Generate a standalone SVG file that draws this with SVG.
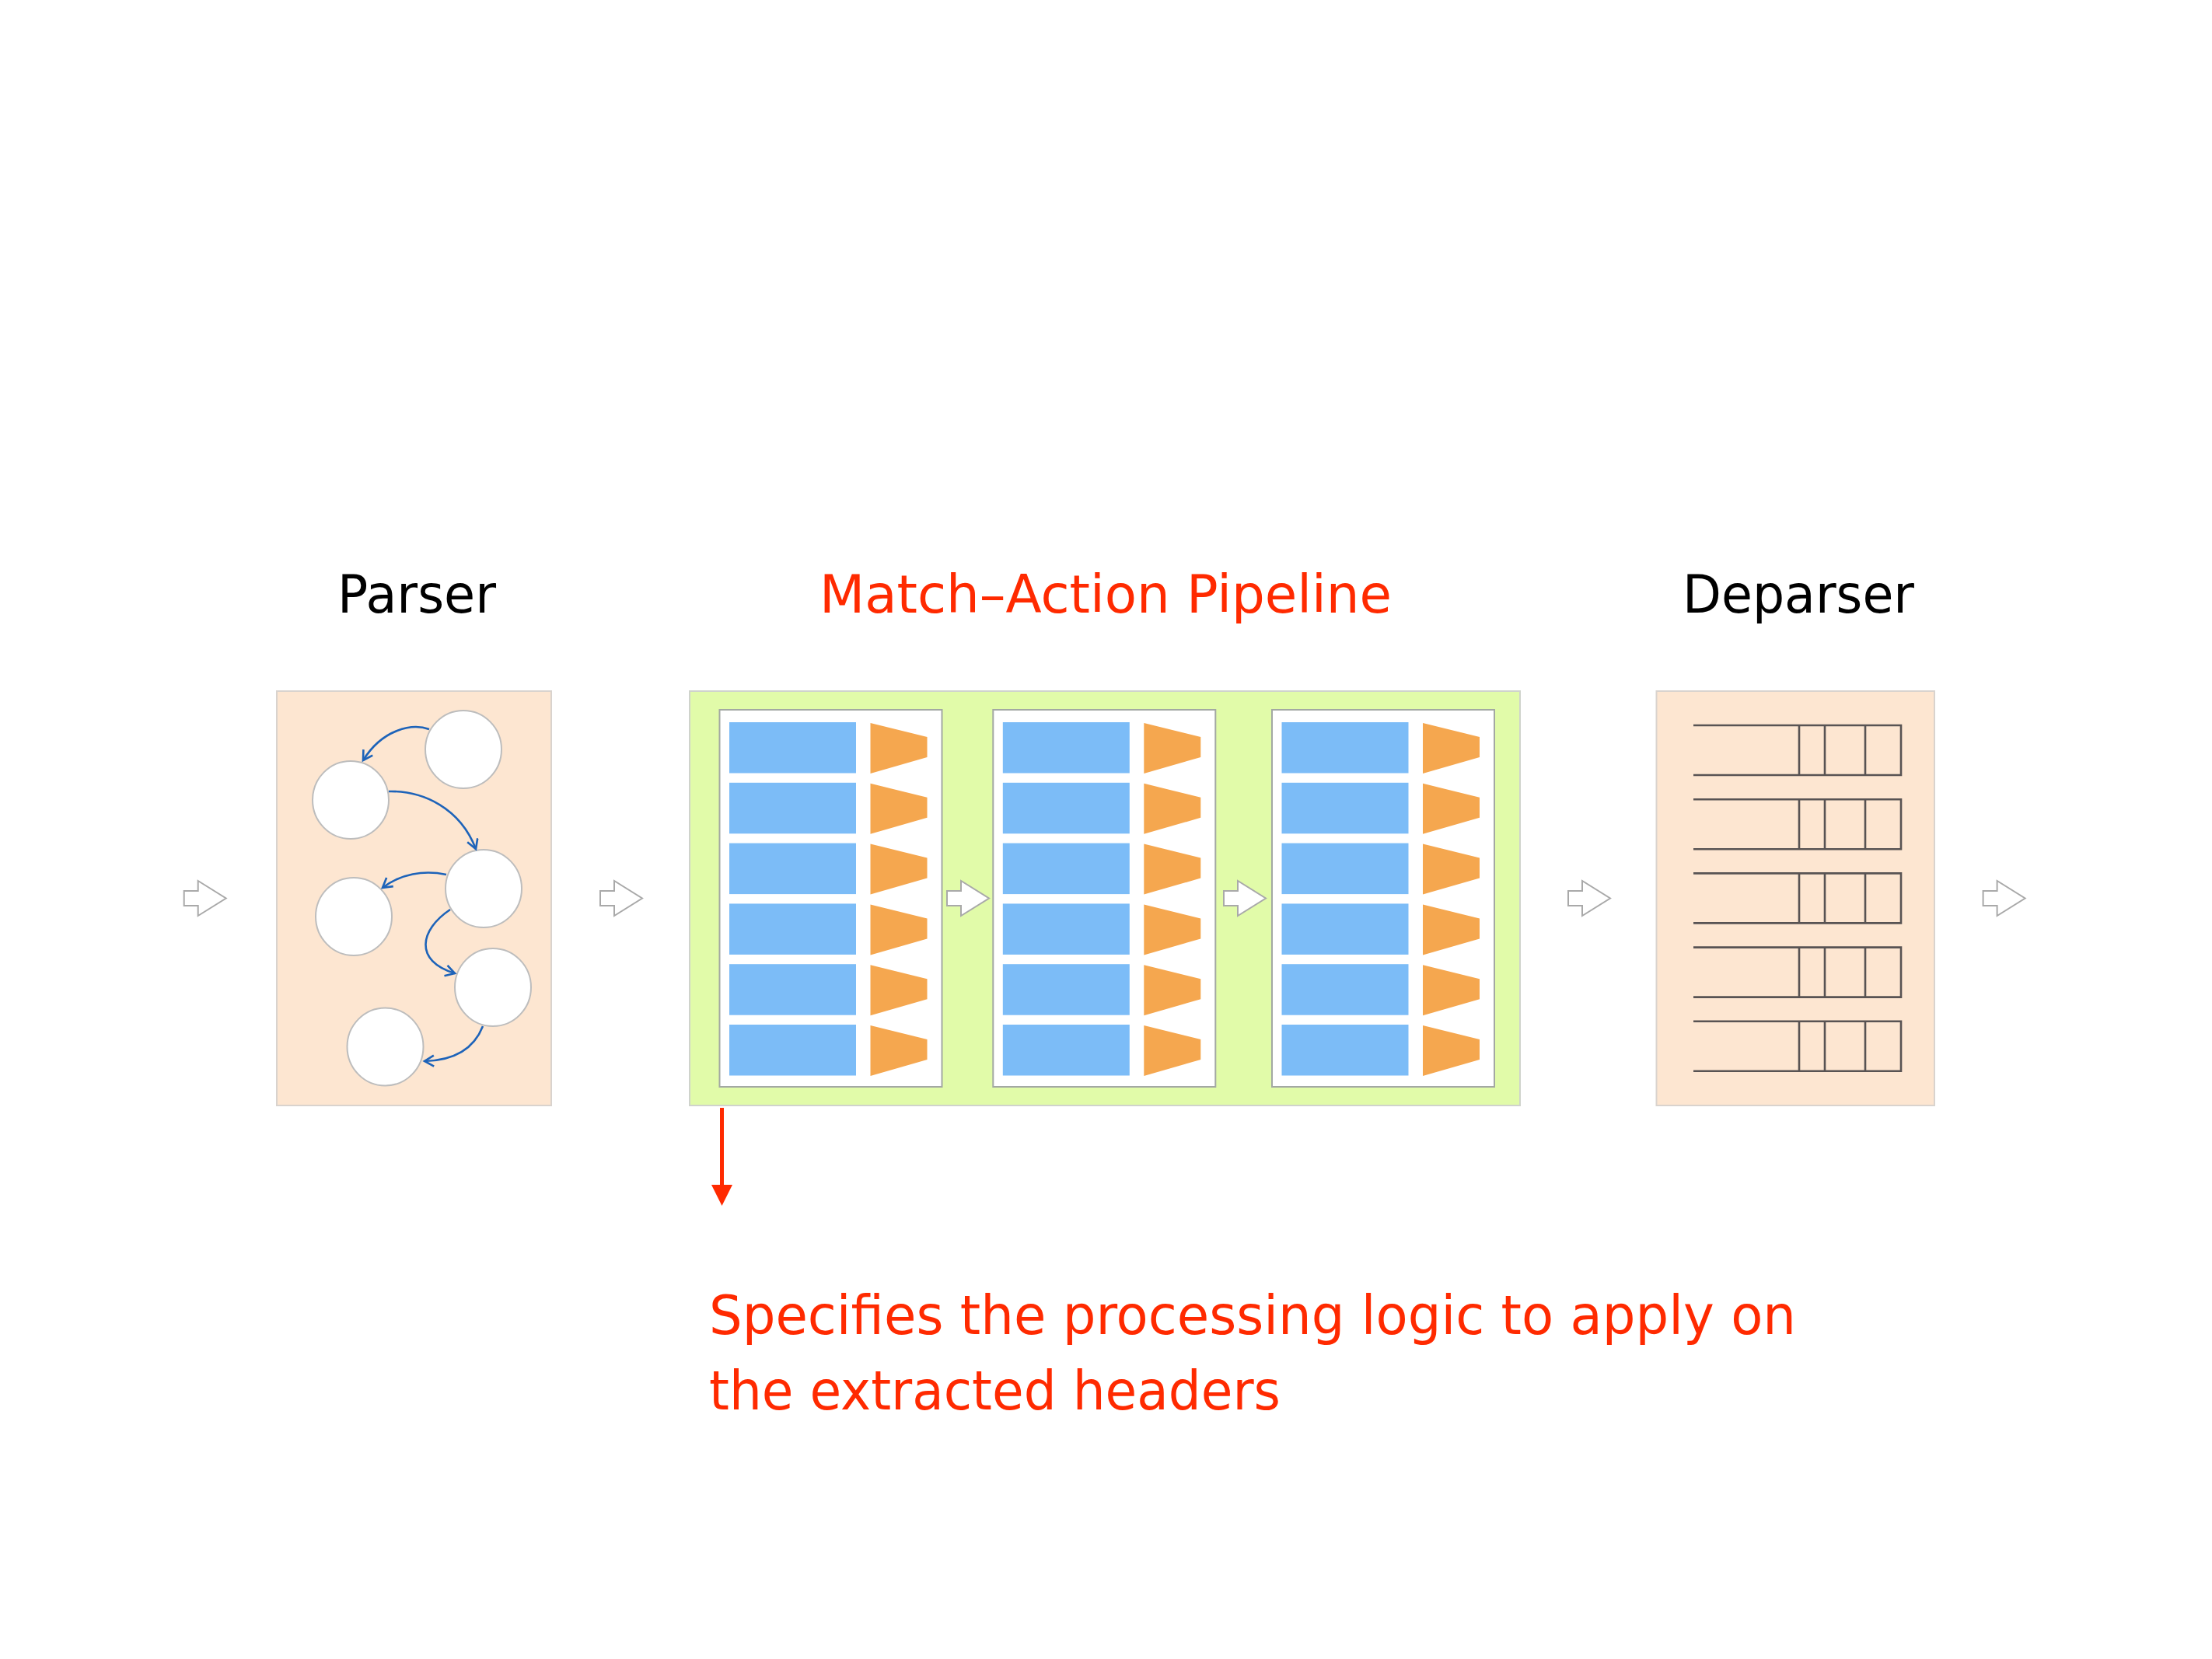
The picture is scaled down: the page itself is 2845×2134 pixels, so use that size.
<svg xmlns="http://www.w3.org/2000/svg" xmlns:xlink="http://www.w3.org/1999/xlink" width="2845" height="2134" viewBox="0 0 2845 2134">
  <style>
    .title { font-family: "DejaVu Sans", "Liberation Sans", sans-serif; font-size: 67px; text-anchor: middle; }
    .body { font-family: "DejaVu Sans", "Liberation Sans", sans-serif; font-size: 69px; fill: #ff2a00; }
    .peach { fill: #fde6d1; stroke: #d9d3ce; stroke-width: 2; }
    .green { fill: #e1fba9; stroke: #cfd3cc; stroke-width: 2; }
    .stage { fill: #ffffff; stroke: #a3a8a3; stroke-width: 2; }
    .state { fill: #ffffff; stroke: #bdbdbd; stroke-width: 2; }
    .blue { fill: #7cbcf7; }
    .orange { fill: #f5a74f; }
    .hdr { fill: none; stroke: #585353; stroke-width: 2.6; }
    .trans { fill: none; stroke: #1d63b9; stroke-width: 2.6; marker-end: url(#open); }
    .block { fill: #ffffff; stroke: #a9a9a9; stroke-width: 2; stroke-linejoin: miter; }
  </style>
  <defs>
    <marker id="open" markerUnits="userSpaceOnUse" markerWidth="20" markerHeight="20" refX="13" refY="8" orient="auto">
      <path d="M1,1 L13,8 L1,15" fill="none" stroke="#1d63b9" stroke-width="2.6"/>
    </marker>
    <path id="blockArrow" class="block" d="M0,-9.5 L18,-9.5 L18,-22.5 L54,0 L18,22.5 L18,9.5 L0,9.5 Z"/>
    <g id="maRow">
      <rect class="blue" x="12.5" y="0" width="163" height="65.5"/>
      <polygon class="orange" points="194,1 267,19 267,45 194,66"/>
    </g>
    <g id="stageContent">
      <rect class="stage" x="0" y="0" width="286" height="485"/>
      <use xlink:href="#maRow" y="16"/>
      <use xlink:href="#maRow" y="93.8"/>
      <use xlink:href="#maRow" y="171.6"/>
      <use xlink:href="#maRow" y="249.4"/>
      <use xlink:href="#maRow" y="327.2"/>
      <use xlink:href="#maRow" y="405"/>
    </g>
    <g id="hdrRow">
      <path class="hdr" d="M0,0 H267 V64 H0 M136,0 V64 M169,0 V64 M221,0 V64"/>
    </g>
  </defs>

  <rect x="0" y="0" width="2845" height="2134" fill="#ffffff"/>

  <g id="node-parser">
    <text class="title" x="536" y="788" textLength="204" lengthAdjust="spacingAndGlyphs" fill="#000000">Parser</text>
    <rect class="peach" x="356" y="889" width="353" height="533"/>
    <g id="state-1"><ellipse class="state" cx="596" cy="964" rx="49" ry="50"/></g>
    <g id="state-2"><ellipse class="state" cx="451" cy="1029" rx="49" ry="50"/></g>
    <g id="state-3"><ellipse class="state" cx="622" cy="1143" rx="49" ry="50"/></g>
    <g id="state-4"><ellipse class="state" cx="455" cy="1179" rx="49" ry="50"/></g>
    <g id="state-5"><ellipse class="state" cx="634" cy="1270" rx="49" ry="50"/></g>
    <g id="state-6"><ellipse class="state" cx="495.5" cy="1346.5" rx="49" ry="50"/></g>
  </g>

  <g id="node-pipeline">
    <text class="title" x="1422" y="788" textLength="736" lengthAdjust="spacingAndGlyphs" fill="#ff2a00">Match–Action Pipeline</text>
    <rect class="green" x="887" y="889" width="1068" height="533"/>
    <g id="node-stage-1"><use xlink:href="#stageContent" x="925.5" y="913"/></g>
    <g id="node-stage-2"><use xlink:href="#stageContent" x="1277.3" y="913"/></g>
    <g id="node-stage-3"><use xlink:href="#stageContent" x="1636" y="913"/></g>
  </g>

  <g id="node-deparser">
    <text class="title" x="2313" y="788" textLength="298" lengthAdjust="spacingAndGlyphs" fill="#000000">Deparser</text>
    <rect class="peach" x="2130.5" y="889" width="357.5" height="533"/>
    <use xlink:href="#hdrRow" x="2178" y="933"/>
    <use xlink:href="#hdrRow" x="2178" y="1028.2"/>
    <use xlink:href="#hdrRow" x="2178" y="1123.4"/>
    <use xlink:href="#hdrRow" x="2178" y="1218.6"/>
    <use xlink:href="#hdrRow" x="2178" y="1313.8"/>
  </g>

  <g id="node-note">
    <text class="body" x="912" y="1716" textLength="1398" lengthAdjust="spacingAndGlyphs">Specifies the processing logic to apply on</text>
    <text class="body" x="912" y="1813" textLength="735" lengthAdjust="spacingAndGlyphs">the extracted headers</text>
  </g>

  <g id="connectors">
    <path class="trans" d="M552,938 C530,930 492,938 467,978"/>
    <path class="trans" d="M500,1018 C545,1017 592,1040 612,1092"/>
    <path class="trans" d="M574,1125 C545,1119 515,1124 492,1142"/>
    <path class="trans" d="M579,1170 C540,1196 532,1236 585,1252"/>
    <path class="trans" d="M621,1320 C610,1348 585,1364 546,1365"/>

    <use xlink:href="#blockArrow" x="236.7" y="1155.5"/>
    <use xlink:href="#blockArrow" x="772" y="1155.5"/>
    <use xlink:href="#blockArrow" x="1218" y="1155.5"/>
    <use xlink:href="#blockArrow" x="1574" y="1155.5"/>
    <use xlink:href="#blockArrow" x="2017" y="1155.5"/>
    <use xlink:href="#blockArrow" x="2550.6" y="1155.5"/>

    <line x1="928.5" y1="1425" x2="928.5" y2="1526" stroke="#ff2a00" stroke-width="5"/>
    <polygon points="915,1524 942,1524 928.5,1551" fill="#ff2a00"/>
  </g>
</svg>
